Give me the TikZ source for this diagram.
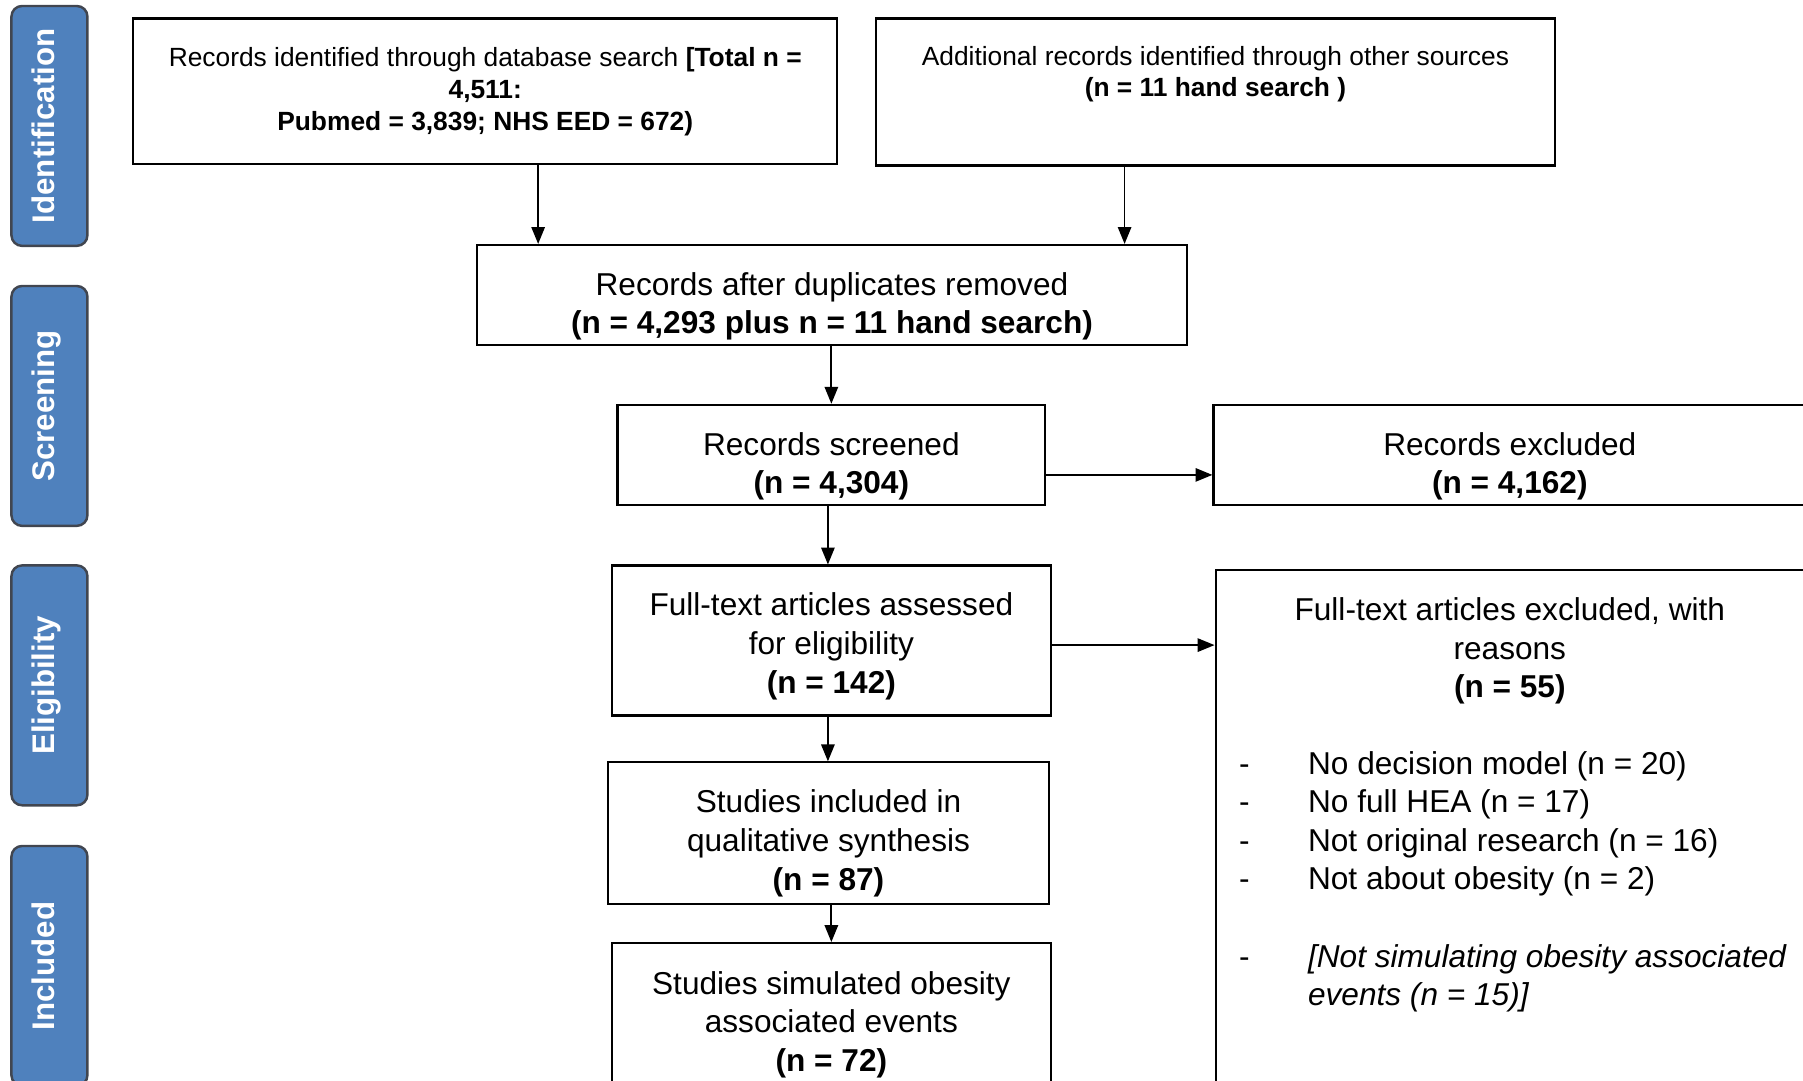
\documentclass[tikz,border=0pt]{standalone}
\usepackage{fontspec}
\setmainfont{Liberation Sans}
\usetikzlibrary{arrows.meta, positioning}
\definecolor{tabblue}{RGB}{79,129,189}
\definecolor{tabedge}{RGB}{65,70,80}
\newcommand{\lift}[1]{\rule{0pt}{#1}}

\begin{document}
\begin{tikzpicture}[
    x=0.0115cm, y=-0.0115cm,
    stage/.style={rectangle, rounded corners=3pt, draw=tabedge, fill=tabblue, line width=0.7pt, rotate=90, minimum width=2.4cm, minimum height=0.76cm, text=white, text height=6.5pt, text depth=3.4pt, font=\fontsize{8.9}{10}\selectfont\bfseries},
    recbox/.style={rectangle, draw=black, line width=0.6pt, align=center, inner sep=0pt, font=\fontsize{9}{11}\selectfont},
    srcbox/.style={recbox, font=\fontsize{7.5}{9.1}\selectfont},
    plain/.style={inner sep=0pt, font=\fontsize{9}{11}\selectfont},
    arr/.style={-{Triangle[length=4.8pt, width=3.8pt]}, line width=0.5pt},
]
    \useasboundingbox (0,0) rectangle (1568,940);

    % Stage tabs
    \node[stage] (ident) at (43,109.5) {Identification};
    \node[stage] (screen) at (43,353) {Screening};
    \node[stage] (elig) at (43,596) {Eligibility};
    \node[stage] (incl) at (43,840) {Included};

    % Identification
    \node[srcbox, minimum width=7.04cm, minimum height=1.46cm] (dbsearch) at (422,79.5) {Records identified through database search \textbf{[Total n =}\\ \textbf{4,511:}\\ \textbf{Pubmed = 3,839; NHS EED = 672)}};
    \node[srcbox, minimum width=6.79cm, minimum height=1.47cm] (othersrc) at (1057,80) {Additional records identified through other sources\\ \textbf{(n = 11 hand search )}\\ \rule[-2.6pt]{0pt}{2.6pt}};

    % Screening
    \node[recbox, minimum width=7.1cm, minimum height=1cm] (dedup) at (723.5,256.5) {\lift{13pt}Records after duplicates removed\\ \textbf{(n = 4,293 plus n = 11 hand search)}};
    \node[recbox, minimum width=4.28cm, minimum height=1cm] (screened) at (723,395.5) {\lift{13pt}Records screened\\ \textbf{(n = 4,304)}};
    \node[recbox, minimum width=5.93cm, minimum height=1cm] (recexcl) at (1313,395.5) {\lift{13pt}Records excluded\\ \textbf{(n = 4,162)}};

    % Eligibility
    \node[recbox, minimum width=4.39cm, minimum height=1.5cm] (fulltext) at (723,557) {\lift{9.8pt}Full-text articles assessed\\ for eligibility\\ \textbf{(n = 142)}};
    \node[recbox, minimum width=5.91cm, minimum height=5.75cm, anchor=north] (ftexcl) at (1314,495) {};
    \node[plain, align=center, anchor=north] (ftexclhead) at (1313,519) {Full-text articles excluded, with\\ reasons\\ \textbf{(n = 55)}};
    \node[plain, anchor=north west] (ftexcllist) at (1077,649) {%
        \begin{tabular}{@{}p{0.69cm}@{}l@{}}
        - & No decision model (n = 20)\\
        - & No full HEA (n = 17)\\
        - & Not original research (n = 16)\\
        - & Not about obesity (n = 2)\\
          & \\
        - & \textit{[Not simulating obesity associated}\\
          & \textit{events (n = 15)]}
        \end{tabular}};

    % Included
    \node[recbox, minimum width=4.405cm, minimum height=1.415cm] (qualsyn) at (720.5,724.5) {\lift{12.4pt}Studies included in\\ qualitative synthesis\\ \textbf{(n = 87)}};
    \node[recbox, minimum width=4.39cm, minimum height=1.63cm] (simevents) at (723,891) {Studies simulated obesity\\ associated events\\ \textbf{(n = 72)}};

    % Arrows
    \coordinate (xa) at (468,0);
    \coordinate (xb) at (978,0);
    \coordinate (xc) at (720,0);
    \coordinate (yd) at (0,413);
    \coordinate (ye) at (0,561);
    \draw[arr] (dbsearch.south -| xa) -- (dedup.north -| xa);
    \draw[arr] (othersrc.south -| xb) -- (dedup.north -| xb);
    \draw[arr] (dedup.south -| screened.north) -- (screened.north);
    \draw[arr] (screened.east |- yd) -- (recexcl.west |- yd);
    \draw[arr] (screened.south -| xc) -- (fulltext.north -| xc);
    \draw[arr] (fulltext.east |- ye) -- (ftexcl.west |- ye);
    \draw[arr] (fulltext.south -| xc) -- (qualsyn.north -| xc);
    \draw[arr] (qualsyn.south -| simevents.north) -- (simevents.north);

\end{tikzpicture}
\end{document}
